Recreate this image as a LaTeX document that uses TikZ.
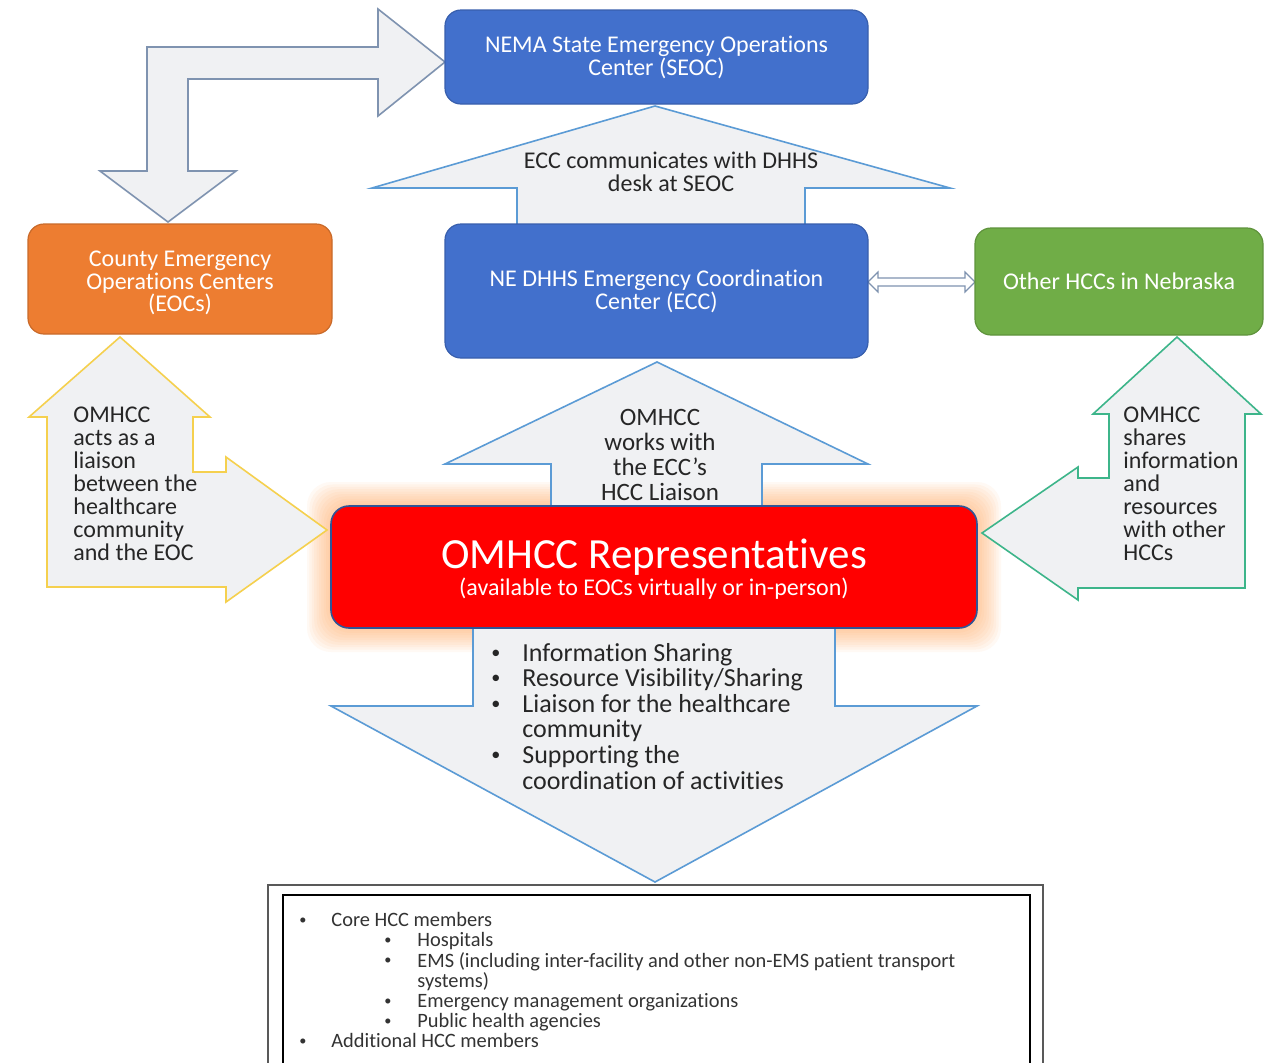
\documentclass[tikz,border=0pt]{standalone}
\usepackage{fontspec}
\setmainfont{Carlito}[Ligatures={NoCommon}]
\usepackage{array}
\definecolor{cblue}{HTML}{4270CC}
\definecolor{corange}{HTML}{ED7D31}
\definecolor{cgreen}{HTML}{70AD47}
\definecolor{cred}{HTML}{FF0000}
\definecolor{afill}{HTML}{F0F1F3}
\definecolor{aline}{HTML}{5B9BD5}
\definecolor{agrey}{HTML}{7F93B0}
\definecolor{ayellow}{HTML}{F5D04E}
\definecolor{ateal}{HTML}{3DB58A}
\definecolor{txt}{HTML}{262626}
\definecolor{glow}{HTML}{FF9B45}
\definecolor{redline}{HTML}{2F5597}
\definecolor{memtxt}{HTML}{333333}
\newcommand{\sbul}{\raisebox{0.12em}{\scalebox{0.7}{\textbullet}}}
\begin{document}
\begin{tikzpicture}[x=0.5pt,y=-0.5pt,
  cbox/.style={rounded corners=8pt, inner sep=0pt, align=center, text=white,
    font=\fontsize{12}{11.5}\selectfont, line width=0.6pt},
  barrow/.style={fill=afill, line width=0.8pt, line join=miter},
  atext/.style={text=txt, inner sep=0pt}]
\useasboundingbox (0,0) rectangle (1274,1062);
\fill[white] (0,0) rectangle (1274,1062);

% glow around red box
\foreach \i in {1,...,10}{
  \fill[glow, opacity=0.06, rounded corners=12pt]
    ({331-2.4*\i},{506-2.4*\i}) rectangle ({977+2.4*\i},{628+2.4*\i});
}

% bent arrow to SEOC and County EOCs
\draw[barrow, draw=agrey] (147,47) -- (378,47) -- (378,9) -- (445,62) -- (378,116)
  -- (378,79) -- (188,79) -- (188,171) -- (236,171) -- (168,222) -- (100,171)
  -- (147,171) -- cycle;

% ECC -> SEOC block arrow
\draw[barrow, draw=aline] (655,106) -- (950,188) -- (805,188) -- (805,228) -- (517,228)
  -- (517,188) -- (372,188) -- cycle;

% OMHCC -> ECC block arrow
\draw[barrow, draw=aline] (657,362) -- (868,464) -- (762,464) -- (762,510) -- (551,510)
  -- (551,464) -- (445,464) -- cycle;

% OMHCC down block arrow
\draw[barrow, draw=aline] (473,624) -- (473,706) -- (331,706) -- (655,882) -- (977,706)
  -- (835,706) -- (835,624);

% left yellow bent arrow
\draw[barrow, draw=ayellow] (120,337) -- (210,417) -- (193,417) -- (193,472) -- (226,472)
  -- (226,457) -- (327,530) -- (226,602) -- (226,587) -- (47,587) -- (47,417)
  -- (29,417) -- cycle;

% right green bent arrow
\draw[barrow, draw=ateal] (1177,337) -- (1261,414) -- (1245,414) -- (1245,588)
  -- (1078,588) -- (1078,600) -- (982,533) -- (1078,467) -- (1078,478) -- (1109,478)
  -- (1109,414) -- (1093,414) -- cycle;

% double arrow ECC <-> other HCCs
\draw[fill=white, draw=agrey, line width=0.6pt] (868,282) -- (878,272) -- (878,278)
  -- (965,278) -- (965,272) -- (975,282) -- (965,292) -- (965,286) -- (878,286)
  -- (878,292) -- cycle;

% boxes
\node[cbox, fill=cblue, draw=cblue!85!black, minimum width=211.5pt, minimum height=47pt]
  (seoc) at (656.5,57) {NEMA State Emergency Operations\\Center (SEOC)};
\node[cbox, fill=cblue, draw=cblue!85!black, minimum width=211.5pt, minimum height=67pt]
  (ecc) at (656.5,291) {NE DHHS Emergency Coordination\\Center (ECC)};
\node[cbox, fill=corange, draw=corange!85!black, minimum width=152pt, minimum height=55pt] (county) at (180,279) {};
\node[text=white, inner sep=0pt, align=center, font=\fontsize{12}{11.25}\selectfont]
  (countytxt) at (180,283) {County Emergency\\Operations Centers\\(EOCs)};
\node[cbox, fill=cgreen, draw=cgreen!85!black, minimum width=144pt, minimum height=53.5pt]
  (other) at (1119,281.5) {Other HCCs in Nebraska};
\node[rounded corners=9pt, fill=cred, draw=redline, line width=0.8pt, inner sep=0pt,
  minimum width=323pt, minimum height=61pt] (omhcc) at (654,567) {};
\node[text=white, inner sep=0pt, font=\fontsize{21.5}{21.5}\selectfont]
  (title) at (654,557) {OMHCC Representatives};
\node[text=white, inner sep=0pt, font=\fontsize{12}{12}\selectfont]
  (subtitle) at (654,589) {(available to EOCs virtually or in-person)};

% arrow texts
\node[atext, font=\fontsize{12}{11.5}\selectfont, align=center]
  (t1) at (671,172) {ECC communicates with DHHS\\desk at SEOC};
\node[atext, font=\fontsize{12.5}{12.6}\selectfont, align=center]
  (t2) at (660,455) {OMHCC\\works with\\the ECC’s\\HCC Liaison};
\node[atext, font=\fontsize{12}{11.5}\selectfont, align=left, anchor=west]
  (t3) at (73,484) {OMHCC\\acts as a\\liaison\\between the\\healthcare\\community\\and the EOC};
\node[atext, font=\fontsize{12}{11.5}\selectfont, align=left, anchor=west]
  (t4) at (1123,484) {OMHCC\\shares\\information\\and\\resources\\with other\\HCCs};
\node[atext, anchor=west, font=\fontsize{13}{12.6}\selectfont]
  (bul) at (491,720) {\begin{tabular}{@{}p{15.5pt}@{}l@{}}
  \sbul & Information Sharing\\
  \sbul & Resource Visibility/Sharing\\
  \sbul & Liaison for the healthcare\\
   & community\\
  \sbul & Supporting the\\
   & coordination of activities
  \end{tabular}};

% members frame
\draw[line width=1.4pt, draw=black!65] (268,1080) -- (268,885) -- (1043,885) -- (1043,1080);
\draw[line width=1pt, draw=black] (283,1080) -- (283,895) -- (1030,895) -- (1030,1080);
\node[atext, text=memtxt, anchor=north west, font=\fontsize{10.2}{9.65}\selectfont]
  (mem) at (299,912) {\begin{tabular}{@{}p{16pt}@{}p{26.5pt}@{}p{16.5pt}@{}l@{}}
  \sbul & \multicolumn{3}{@{}l@{}}{Core HCC members}\\
   & & \sbul & Hospitals\\
   & & \sbul & EMS (including inter-facility and other non-EMS patient transport\\
   & & & systems)\\
   & & \sbul & Emergency management organizations\\
   & & \sbul & Public health agencies\\
  \sbul & \multicolumn{3}{@{}l@{}}{Additional HCC members}
  \end{tabular}};
\end{tikzpicture}
\end{document}
